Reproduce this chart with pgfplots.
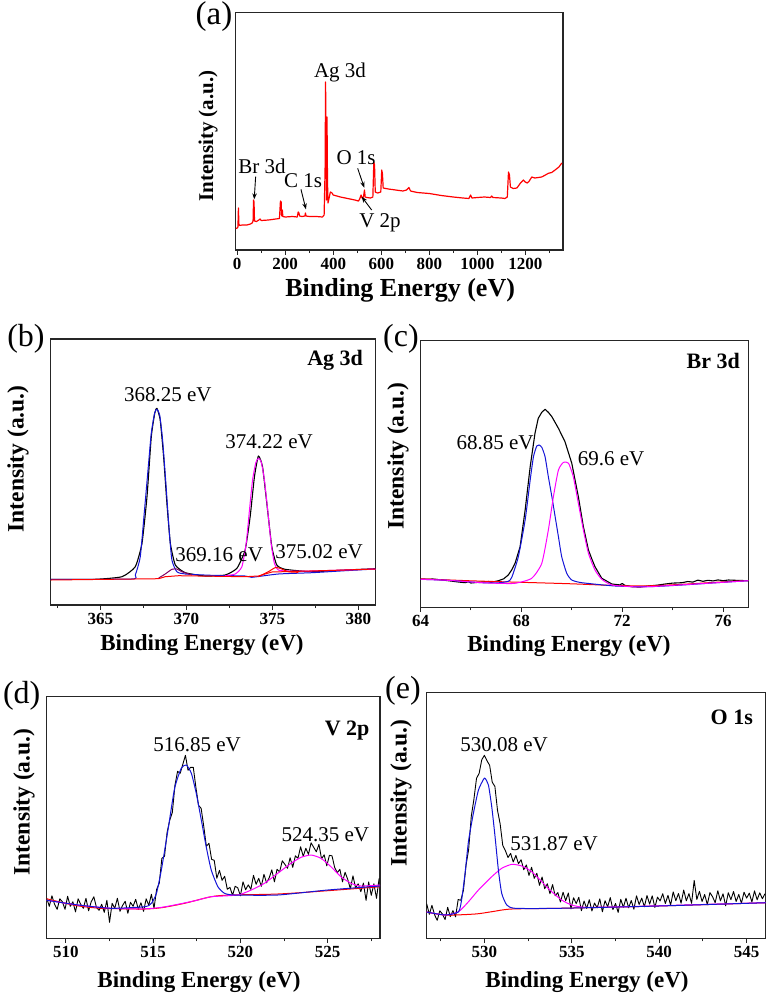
\documentclass[border=0pt]{standalone}
\usepackage{fontspec}
\setmainfont{Liberation Serif}[BoldFont={Liberation Serif Bold}, ItalicFont={Liberation Serif Italic}]
\usepackage{pgfplots}
\pgfplotsset{compat=1.18}
\usetikzlibrary{arrows.meta}
\definecolor{fitblue}{RGB}{20,20,215}
\definecolor{fitmag}{RGB}{255,0,255}
\definecolor{fitred}{RGB}{255,0,0}
\definecolor{fitpur}{RGB}{128,0,100}
\newcommand\annfont{\fontsize{21}{21}\selectfont}
\newcommand\secfont{\fontsize{22}{22}\selectfont\bfseries}
\newcommand\panfont{\fontsize{32}{32}\selectfont}
\pgfplotsset{
  xps/.style={
    scale only axis, clip=true,
    axis line style={line width=1.3pt, draw=black!85},
    xtick pos=bottom, ytick=\empty,
    tick align=outside, major tick length=4.5pt, minor tick length=3pt,
    every tick/.append style={line width=1pt, black!85},
    ymin=0,
    /pgf/number format/assume math mode=true,
    /pgf/number format/1000 sep={},
    xticklabel style={font=\fontsize{17}{17}\selectfont\bfseries},
    xlabel={Binding Energy (eV)}, ylabel={Intensity (a.u.)},
    xlabel style={font=\fontsize{23}{23}\selectfont\bfseries, anchor=center},
    ylabel style={font=\fontsize{23.5}{23.5}\selectfont\bfseries, anchor=center},
  },
  blk/.style={black, line width=1.1pt, line join=round},
  fit/.style={line width=1pt, smooth, tension=0.35},
}
\begin{document}
\begin{tikzpicture}
\useasboundingbox (0,0) rectangle (767pt,-997pt);

% ---------------- (a) survey ----------------
\begin{axis}[xps, at={(235.3pt,-250pt)}, anchor=south west,
  width=327.7pt, height=237.3pt, xmin=-8, xmax=1357, ymax=237.3,
  xtick={0,200,400,600,800,1000,1200}, minor xtick={100,300,500,700,900,1100,1300},
  xlabel style={font=\fontsize{26}{26}\selectfont\bfseries, at={(axis description cs:0.503,-0.1686)}},
  ylabel style={font=\fontsize{21}{21}\selectfont\bfseries, at={(axis description cs:-0.0833,0.48)}}]
\addplot[fitred, line width=1.2pt, line join=round] coordinates {
(-6,21.5) (0,22) (3,23) (5,42) (7,26) (10,24.5) (20,25) (40,25) (55,26) (62,27) (66,29) (68,50) (70,48) (72,29)
(80,28.5) (90,30) (95,31) (100,29.5) (130,30) (160,31) (176,31.5) (180,49) (183,48) (185,34) (188,40) (190,33.5)
(200,33) (230,33.5) (250,33) (254,38) (257,37) (260,34) (270,33.5) (282,34) (284,37) (287,34) (300,33.5) (330,33.5)
(355,33) (362,35) (366,80) (368,168) (370,110) (372,50) (374,133) (376,70) (378,47) (381,50) (388,58) (395,57)
(400,55) (430,53) (460,51.5) (490,50) (505,49) (510,51) (516,55) (520,52) (526,53) (530,60) (533,53) (540,52.5)
(555,52) (565,53) (569,88) (572,85) (575,58) (585,57) (598,58) (602,80) (605,76) (608,62) (630,61) (660,60)
(690,59) (705,60) (715,62.5) (722,59) (750,57.5) (800,56.5) (850,54.5) (900,53) (940,52) (965,51.5) (972,55)
(978,52) (1000,52.5) (1030,53) (1055,52.5) (1060,54) (1065,52.5) (1100,52) (1115,51.5) (1125,53) (1130,78)
(1134,75) (1138,63) (1150,61.5) (1165,62) (1180,67) (1192,70) (1200,68) (1208,67) (1215,68.5) (1227,73)
(1240,72) (1268,73) (1280,74.5) (1296,76.7) (1310,77.5) (1324,80) (1340,83) (1352,87)
};
\node[font=\annfont] at (axis cs:428,178) {Ag 3d};
\node[font=\annfont] at (axis cs:103,84) {Br 3d};
\node[font=\annfont] at (axis cs:274,69) {C 1s};
\node[font=\annfont] at (axis cs:495,92) {O 1s};
\node[font=\annfont] at (axis cs:594.6,27) {V 2p};
\draw[-{Stealth[length=6pt,width=4.5pt]}, line width=0.9pt] (axis cs:76.7,73.3) -- (axis cs:70.8,50.7);
\draw[-{Stealth[length=6pt,width=4.5pt]}, line width=0.9pt] (axis cs:265.4,60.7) -- (axis cs:286.3,40.7);
\draw[-{Stealth[length=6pt,width=4.5pt]}, line width=0.9pt] (axis cs:501.7,81.7) -- (axis cs:529.2,62.3);
\draw[-{Stealth[length=6pt,width=4.5pt]}, line width=0.9pt] (axis cs:560,40) -- (axis cs:518.3,53.3);
\end{axis}

% ---------------- (b) Ag 3d ----------------
\begin{axis}[xps, at={(50.5pt,-605pt)}, anchor=south west,
  width=325pt, height=266pt, xmin=362.1, xmax=381, ymax=266,
  xtick={365,370,375,380}, minor xtick={362.5,367.5,372.5,377.5},
  xlabel style={at={(axis description cs:0.466,-0.1504)}},
  ylabel style={at={(axis description cs:-0.1,0.549)}}]
\addplot[blk, smooth, tension=0.3] coordinates {
(362.1,25.7) (364.7,25.7) (366.26,28.3) (367.03,38.3) (367.42,61.7) (367.71,108) (367.96,168) (368.16,191.7)
(368.29,196.7) (368.48,185) (368.68,148) (368.87,101.7) (369.07,61.7) (369.36,40) (369.94,32.3) (371.1,29)
(372.26,30) (372.94,36.7) (373.42,55) (373.71,88.3) (373.96,128.3) (374.19,149) (374.43,138.3) (374.68,101.7)
(374.97,58.3) (375.26,40) (375.74,35.7) (377.29,33.3) (379.23,35) (381,36.3)
};
\addplot[fitblue, fit] coordinates {
(362.1,25.7) (366.8,26) (367.03,30) (367.32,48.3) (367.55,91.7) (367.77,135) (367.96,171.7) (368.16,192.3)
(368.29,195.7) (368.45,190) (368.62,165) (368.81,121.7) (369.0,75) (369.16,45) (369.45,33.3) (369.94,31)
(371.49,29.7) (373.42,29) (373.8,27.7) (375.35,31) (377.29,32.3) (379.23,34.3) (381,36)
};
\addplot[fitmag, fit] coordinates {
(372.26,29.3) (372.84,31) (373.23,38.3) (373.48,61.7) (373.67,95) (373.85,125) (374.04,142.3) (374.19,146.7)
(374.35,143.3) (374.54,125) (374.73,95) (374.93,61.7) (375.12,41.7) (375.35,35) (375.93,34) (377.29,34) (381,36)
};
\addplot[fitpur, fit] coordinates {
(368.39,27) (368.77,31) (369.16,35.7) (369.45,36) (369.74,33.3) (370.33,30)
};
\addplot[fitred, fit] coordinates {
(374.19,28.3) (374.77,33.3) (375.16,37.3) (375.45,36.7) (375.93,33.3) (376.51,32.7)
};
\addplot[fitred, line width=1pt] coordinates {
(362.1,25) (368.39,26.3) (368.77,28.3) (369.55,29.3) (373.42,28.3) (374.19,29) (374.97,33) (376.51,33.7)
(379.23,35) (381,36)
};
\node[font=\annfont] at (axis cs:368.92,210) {368.25 eV};
\node[font=\annfont] at (axis cs:374.81,163) {374.22 eV};
\node[font=\annfont] at (axis cs:371.91,50) {369.16 eV};
\node[font=\annfont] at (axis cs:377.72,53) {375.02 eV};
\node[font=\secfont] at (axis cs:378.65,245) {Ag 3d};
\end{axis}

% ---------------- (c) Br 3d ----------------
\begin{axis}[xps, at={(420.5pt,-607.3pt)}, anchor=south west,
  width=327.8pt, height=266.6pt, xmin=64, xmax=77, ymax=266.6,
  xtick={64,68,72,76}, minor xtick={66,70,74},
  xlabel style={at={(axis description cs:0.453,-0.1452)}},
  ylabel style={at={(axis description cs:-0.0686,0.567)}}]
\addplot[blk] coordinates {
(64.0,28) (64.5,28.3) (65.1,26.6) (65.5,25.3) (65.77,24.6) (65.9,25.6) (66.0,24.3) (66.43,25.3) (66.7,25.8)
(66.8,25.0) (67.09,26.6) (67.3,28.5) (67.48,32.3) (67.62,37.5) (67.75,44) (67.95,60.6) (68.15,97.3) (68.35,140.6)
(68.54,174) (68.67,189) (68.81,195) (68.94,198) (69.07,195) (69.21,190.6) (69.47,179) (69.73,165.6) (70.0,144)
(70.26,110.6) (70.46,80.6) (70.66,57.3) (70.8,48) (70.92,40.6) (71.19,29) (71.59,23.3) (71.9,22.4) (72.0,23.8)
(72.1,22) (72.38,20.6) (72.7,20.2) (73.04,21.3) (73.4,22.2) (73.7,23.3) (74.0,24.2) (74.37,24.6) (74.6,25.8)
(74.8,25.2) (75.0,27.2) (75.2,26.0) (75.4,27.0) (75.6,26.4) (75.8,27.4) (76.0,26.6) (76.21,27.3) (76.5,27.0) (77.0,26.6)
};
\addplot[fitred, line width=1pt, smooth] coordinates {
(64,28.5) (66,26.5) (68,25) (70,23.5) (71.72,21.8) (73.04,21.5) (74.37,23) (75.69,25) (77,26.8)
};
\addplot[fitblue, fit] coordinates {
(64,28) (65.1,27) (66.43,24.6) (67.09,24.5) (67.48,26) (67.62,30) (67.88,50.6) (68.15,87.3) (68.35,127.3)
(68.48,150.6) (68.61,161.3) (68.70,162.3) (68.81,160) (68.94,150.6) (69.07,130.6) (69.21,110.6) (69.34,90.6)
(69.47,70.6) (69.60,50.6) (69.8,34) (70.0,27.3) (70.4,24.6) (71.72,21.3) (73.04,20.6) (74.37,22.3) (75.69,24.5) (77,26.6)
};
\addplot[fitmag, fit] coordinates {
(64,28) (65.1,27) (66.43,24.6) (67.09,24) (67.75,24) (68.41,29) (68.81,44) (69.07,77.3) (69.27,110.6) (69.47,137.3)
(69.67,145) (69.87,144) (70.06,130.6) (70.26,104) (70.46,77.3) (70.66,54) (70.92,37.3) (71.19,28) (71.59,22.3)
(72.38,20.6) (73.04,20.6) (74.37,22.5) (75.69,24.5) (77,26.6)
};
\node[font=\annfont] at (axis cs:66.96,164.3) {68.85 eV};
\node[font=\annfont] at (axis cs:71.56,148.3) {69.6 eV};
\node[font=\secfont] at (axis cs:75.61,246.3) {Br 3d};
\end{axis}

% ---------------- (d) V 2p ----------------
\begin{axis}[xps, at={(46.7pt,-938.3pt)}, anchor=south west,
  width=333.3pt, height=241.6pt, xmin=508.9, xmax=528, ymax=241.6,
  xtick={510,515,520,525}, minor xtick={512.5,517.5,522.5,527.5},
  xlabel style={at={(axis description cs:0.457,-0.1809)}},
  ylabel style={at={(axis description cs:-0.0681,0.564)}}]
\addplot[black, line width=0.9pt, line join=round] coordinates {
(508.90,40) (509.05,32) (509.20,42.5) (509.35,34) (509.50,29) (509.65,39.5) (509.80,36.5) (509.95,29)
(510.10,42) (510.25,32) (510.40,36.5) (510.55,26.5) (510.70,39.5) (510.85,34) (511.00,30) (511.15,40)
(511.30,27.5) (511.45,36.5) (511.60,41.5) (511.75,31) (511.90,28) (512.05,34) (512.20,26) (512.35,38)
(512.50,16) (512.65,35) (512.80,30) (512.95,40) (513.10,27) (513.25,33) (513.40,37) (513.55,25)
(513.70,36) (513.85,32) (514.00,39) (514.15,29) (514.30,35.5) (514.45,27) (514.60,39.5) (514.75,33)
(514.90,44) (515.05,30) (515.20,49) (515.35,55) (515.50,80) (515.65,82) (515.80,106) (515.95,118)
(516.10,126) (516.25,153) (516.40,167) (516.55,165) (516.70,174) (516.85,183) (517.00,168) (517.15,171)
(517.30,171) (517.45,151) (517.60,133) (517.75,130) (517.90,112) (518.05,92) (518.20,95) (518.35,79)
(518.50,78) (518.65,60) (518.80,68) (518.95,58) (519.10,62) (519.25,49) (519.40,51) (519.55,43)
(519.70,52) (519.85,50.5) (520.00,42.5) (520.15,56.5) (520.30,48.5) (520.45,53.5) (520.60,49) (520.75,63)
(520.90,54) (521.05,60) (521.20,52) (521.35,64) (521.50,55.5) (521.65,60.5) (521.80,68.5) (521.95,56.5)
(522.10,69) (522.25,66.5) (522.40,77.5) (522.55,74) (522.70,70) (522.85,80.5) (523.00,71) (523.15,82.5)
(523.30,80) (523.45,91.5) (523.60,82) (523.75,90) (523.90,84) (524.05,95.5) (524.20,91) (524.35,86.5)
(524.50,94) (524.65,79.5) (524.80,83.5) (524.95,72.5) (525.10,83) (525.25,82.5) (525.40,71) (525.55,65.5)
(525.70,69) (525.85,56.5) (526.00,66) (526.15,59) (526.30,49.5) (526.45,62.5) (526.60,50.5) (526.75,54.5)
(526.90,46.6) (527.05,55.2) (527.20,38) (527.35,56.4) (527.50,43) (527.65,54.5) (527.80,40) (527.95,60)
};
\addplot[fitred, line width=1pt, smooth] coordinates {
(508.8,40) (510.5,33) (512,30) (513.5,29.5) (514.52,29.3) (515.47,30.6) (516.8,35) (518.33,41.6) (519.47,43.3)
(522.14,44.3) (525.0,47.6) (528,51.6)
};
\addplot[fitmag, fit] coordinates {
(508.8,38.3) (510.71,33.3) (512.61,30) (514.52,29.5) (515.5,31) (516.42,34) (517.5,38) (518.33,41.6) (519.85,43.3)
(520.62,48.3) (521.38,55) (522.14,65) (522.9,75) (523.48,81) (524.05,83.3) (524.62,80) (525.19,71.6) (525.76,61.6)
(526.34,55) (526.91,52.3) (528,53.3)
};
\addplot[fitblue, fit] coordinates {
(508.8,38.3) (510.71,33.3) (512.61,30) (514.52,31.6) (514.9,35) (515.19,45) (515.47,68.3) (515.85,108.3)
(516.23,150) (516.61,170) (516.9,173.3) (517.19,165) (517.47,145) (517.76,118.3) (518.04,91.6) (518.33,68.3)
(518.71,51.6) (519.09,45) (519.66,43.3) (522.14,43.3) (525.0,48.3) (528,52.3)
};
\node[font=\annfont] at (axis cs:517.52,193.3) {516.85 eV};
\node[font=\annfont] at (axis cs:524.87,103.3) {524.35 eV};
\node[font=\secfont] at (axis cs:526.12,207.3) {V 2p};
\end{axis}

% ---------------- (e) O 1s ----------------
\begin{axis}[xps, at={(426.7pt,-938.3pt)}, anchor=south west,
  width=339pt, height=245.6pt, xmin=526.7, xmax=546.09, ymax=245.6,
  xtick={530,535,540,545}, minor xtick={527.5,532.5,537.5,542.5},
  xlabel style={at={(axis description cs:0.473,-0.178)}},
  ylabel style={at={(axis description cs:-0.0758,0.592)}}]
\addplot[black, line width=0.9pt, line join=round] coordinates {
(526.70,34.6) (526.85,24) (527.00,33) (527.15,23.5) (527.30,18) (527.45,27.5) (527.60,24.3) (527.75,18.7)
(527.90,31) (528.05,21.7) (528.20,27.7) (528.35,21.5) (528.50,38.8) (528.65,38) (528.80,48) (528.95,73)
(529.10,89) (529.25,122) (529.40,139) (529.55,160) (529.70,165) (529.85,178.6) (530.00,183) (530.15,177.5)
(530.30,173) (530.45,156) (530.60,152) (530.75,128) (530.90,114.5) (531.05,93) (531.20,87.7) (531.35,80.8)
(531.50,84.9) (531.65,76.3) (531.80,82.9) (531.95,74.6) (532.10,78.6) (532.25,68.6) (532.40,73.4) (532.55,62.9)
(532.70,71) (532.85,60) (533.00,65) (533.15,53) (533.30,61.3) (533.45,49.6) (533.60,54.5) (533.75,44.6)
(533.90,53.7) (534.05,42.6) (534.20,45.7) (534.35,36.3) (534.50,46) (534.65,37.6) (534.80,45.3) (534.95,29.4)
(535.10,40.6) (535.25,34.7) (535.40,41) (535.55,27.6) (535.70,37.3) (535.85,29.9) (536.00,38.6) (536.15,27.3)
(536.30,35.3) (536.45,30.4) (536.60,39.5) (536.75,26.5) (536.90,37.6) (537.05,31.6) (537.20,40.7) (537.35,28.7)
(537.50,34.8) (537.65,25.9) (537.80,38.9) (537.95,31) (538.10,40.1) (538.25,30.5) (538.40,37.8) (538.55,29.1)
(538.70,42.5) (538.85,33.8) (539.00,40.2) (539.15,31.5) (539.30,42.8) (539.45,34.2) (539.60,42.5) (539.75,30.9)
(539.90,41.2) (540.05,37.4) (540.20,44.6) (540.35,34.8) (540.50,43) (540.65,33.2) (540.80,46.4) (540.95,37.6)
(541.10,44.8) (541.25,35.1) (541.40,48.3) (541.55,37.5) (541.70,44.7) (541.85,35) (542.00,57.9) (542.15,38.9)
(542.30,46.9) (542.45,36.8) (542.60,43.8) (542.75,33.7) (542.90,45.7) (543.05,41.6) (543.20,35.6) (543.35,47.6)
(543.50,37.5) (543.65,44.5) (543.80,32.5) (543.95,45.6) (544.10,38.7) (544.25,46.8) (544.40,36.8) (544.55,43.9)
(544.70,35) (544.85,46.1) (545.00,40.2) (545.15,45.2) (545.30,36.3) (545.45,47.4) (545.60,38.5) (545.75,45.5)
(545.90,39.6) (546.05,44.6)
};
\addplot[fitred, line width=1pt, smooth] coordinates {
(526.61,26.6) (527.75,23.3) (529.47,24.3) (530.42,26.6) (531.57,29.3) (534.23,30) (539.95,32.3) (546.1,35.6)
};
\addplot[fitmag, fit] coordinates {
(526.61,26.6) (527.75,23.3) (528.52,26.6) (529.09,36.6) (529.66,48.3) (530.42,61.6) (530.99,70) (531.57,74)
(532.14,72.3) (532.71,66.6) (533.28,56.6) (533.85,46.6) (534.42,38.3) (534.99,33.3) (535.76,31) (538.05,31.6)
(541.86,33.5) (546.1,35.6)
};
\addplot[fitblue, fit] coordinates {
(526.61,26.6) (527.75,23.3) (528.52,26.5) (528.71,40) (528.9,66) (529.09,97) (529.37,125) (529.66,148.3)
(529.95,159) (530.04,160) (530.23,153.3) (530.42,131.6) (530.61,101.6) (530.8,68.3) (530.99,45) (531.28,33.3)
(531.76,30) (534.23,30) (539.95,32.3) (546.1,35.6)
};
\node[font=\annfont] at (axis cs:531.13,193.3) {530.08 eV};
\node[font=\annfont] at (axis cs:533.99,94.3) {531.87 eV};
\node[font=\secfont] at (axis cs:544.15,221.3) {O 1s};
\end{axis}

% panel letters
\node[font=\fontsize{33}{33}\selectfont] at (214pt,-17pt) {(a)};
\node[font=\panfont] at (26pt,-339pt) {(b)};
\node[font=\panfont] at (401pt,-339pt) {(c)};
\node[font=\panfont] at (21.7pt,-696pt) {(d)};
\node[font=\panfont] at (403pt,-691pt) {(e)};
\end{tikzpicture}
\end{document}
